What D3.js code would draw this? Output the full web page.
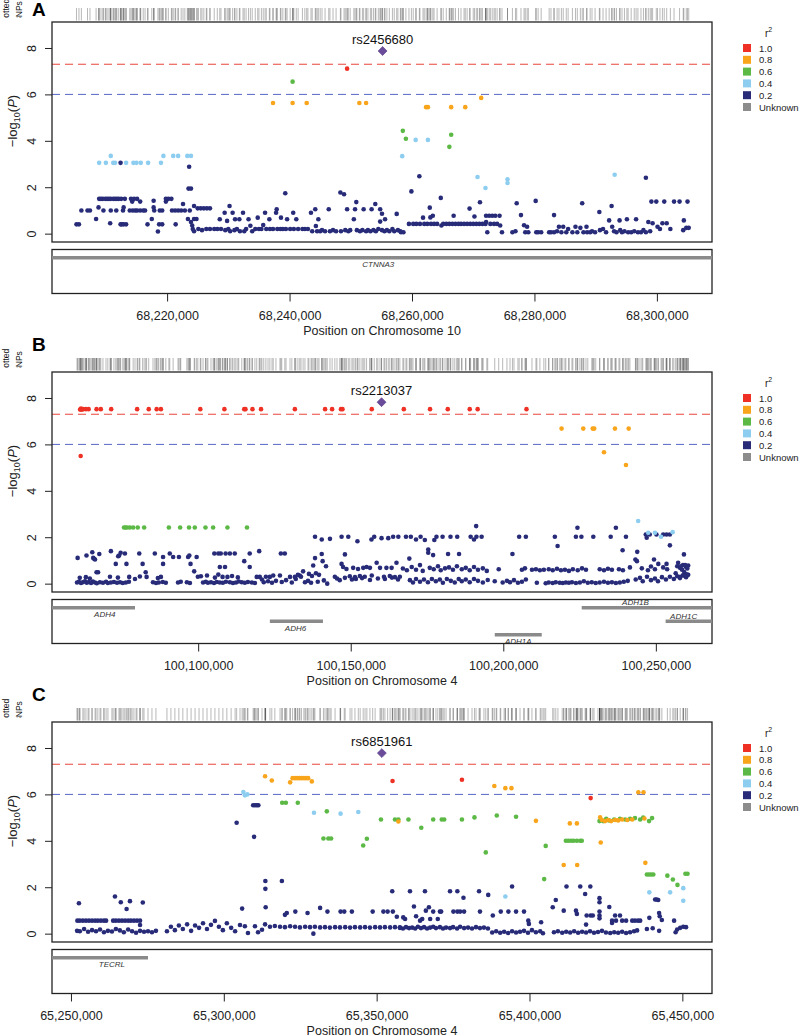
<!DOCTYPE html>
<html><head><meta charset="utf-8">
<script src="https://cdn.jsdelivr.net/npm/d3@7"></script>
<style>body{margin:0;background:#fff}svg{display:block}text{font-family:"Liberation Sans",Arial,Helvetica,sans-serif}</style>
</head><body><svg id="c" width="800" height="1036"></svg>
<script>
// ---------- Panel A (chr10, positions in kb) ----------
const domA = [68201.2, 68309.0];
const ticksA = [68220, 68240, 68260, 68280, 68300];
const A_r02 = [[68205.2,0.4],[68205.6,0.4],[68206.0,1.0],[68207.0,1.0],[68207.4,1.0],[68208.4,0.63],[68208.8,1.13],[68208.9,1.5],[68209.2,1.5],[68209.5,1.5],[68209.6,1.0],[68209.9,1.5],[68210.2,1.5],[68210.5,1.5],[68210.7,0.45],[68210.8,1.0],[68210.8,1.5],[68211.2,1.5],[68211.5,1.5],[68211.7,1.0],[68211.8,1.5],[68212.1,1.5],[68212.4,3.05],[68212.5,1.5],[68212.4,0.4],[68212.6,0.4],[68212.8,1.0],[68212.9,1.13],[68212.9,0.4],[68213.1,1.5],[68213.3,0.4],[68213.9,1.0],[68214.1,1.5],[68214.3,1.38],[68214.4,1.0],[68214.6,1.5],[68214.8,1.0],[68215.1,1.5],[68215.1,1.0],[68215.6,1.38],[68215.6,1.0],[68216.1,1.0],[68216.4,1.0],[68216.8,0.4],[68217.5,0.63],[68217.8,1.13],[68217.8,1.42],[68217.9,1.0],[68218.5,0.09],[68218.7,0.4],[68218.8,1.0],[68219.2,1.0],[68219.2,0.4],[68219.8,1.38],[68219.8,1.5],[68220.2,1.5],[68220.7,1.5],[68220.8,1.0],[68221.3,1.0],[68221.4,0.4],[68221.8,1.0],[68222.3,1.0],[68222.6,1.28],[68222.9,1.0],[68223.4,0.63],[68223.5,1.94],[68223.6,2.88],[68223.9,1.94],[68223.7,1.0],[68223.9,0.5],[68224.1,0.35],[68224.2,0.2],[68224.4,1.19],[68224.4,0.63],[68224.4,0.1],[68224.8,0.63],[68225.0,1.09],[68225.1,0.2],[68225.5,1.09],[68225.7,0.15],[68226.0,1.09],[68226.4,0.2],[68226.5,1.09],[68227.0,1.09],[68227.0,0.2],[68227.7,0.2],[68228.2,0.2],[68228.6,0.62],[68228.8,0.2],[68229.4,0.9],[68229.5,0.15],[68229.8,0.55],[68230.0,0.2],[68230.2,1.19],[68230.3,0.1],[68230.7,0.9],[68231.0,0.15],[68231.1,0.62],[68231.4,0.2],[68231.8,0.62],[68231.9,0.1],[68232.4,0.9],[68232.6,0.1],[68232.9,0.2],[68233.3,0.62],[68233.6,0.34],[68233.9,0.1],[68234.4,0.2],[68234.8,0.69],[68235.0,0.2],[68235.4,0.2],[68235.7,0.37],[68236.0,0.9],[68236.2,0.2],[68236.7,0.62],[68236.8,0.2],[68237.3,0.2],[68237.8,0.9],[68237.9,1.05],[68238.0,0.2],[68238.5,0.2],[68238.6,0.69],[68238.9,0.2],[68239.3,1.74],[68239.4,0.2],[68239.6,0.62],[68240.1,0.2],[68240.6,0.9],[68240.7,0.2],[68241.1,0.62],[68241.4,0.2],[68242.1,0.2],[68242.5,0.2],[68243.0,0.2],[68243.5,0.9],[68243.7,0.1],[68244.2,1.05],[68244.3,0.33],[68244.5,0.1],[68244.7,0.62],[68245.0,0.1],[68245.3,0.15],[68245.8,0.1],[68246.4,1.05],[68246.6,0.1],[68247.1,0.15],[68247.6,0.1],[68248.3,1.77],[68248.4,0.1],[68248.9,1.7],[68249.1,0.15],[68249.4,1.05],[68249.6,0.1],[68249.9,0.15],[68250.5,0.62],[68250.7,1.05],[68250.9,1.36],[68251.0,0.15],[68251.5,0.1],[68251.9,0.15],[68252.1,1.05],[68252.5,0.1],[68252.8,0.15],[68253.2,0.1],[68253.4,1.05],[68253.7,0.15],[68254.0,1.28],[68254.1,0.1],[68254.5,0.2],[68254.8,1.05],[68254.8,0.52],[68255.1,0.86],[68255.1,0.15],[68255.5,0.1],[68255.6,0.62],[68255.9,0.15],[68256.3,0.1],[68256.8,0.2],[68257.1,0.1],[68257.5,0.85],[68257.7,0.15],[68258.1,0.1],
[68258.2,0.06],[68258.6,0.06],[68259.5,0.42],[68259.9,1.82],[68260.2,0.42],[68260.7,0.42],[68261.2,2.47],[68261.3,0.42],[68261.8,0.69],[68262.0,0.42],[68262.5,0.42],[68262.9,1.12],[68263.0,0.7],[68263.1,0.42],[68263.4,0.77],[68263.6,0.42],[68264.1,0.42],[68264.7,1.54],[68264.8,0.35],[68265.1,0.42],[68265.6,0.42],[68266.1,0.42],[68266.6,0.42],[68266.8,0.77],[68267.1,0.42],[68267.6,0.42],[68268.0,0.42],[68268.5,0.42],[68269.0,0.42],[68269.4,1.08],[68269.5,0.42],[68270.0,0.42],[68270.2,0.74],[68270.5,0.42],[68271.0,0.42],[68271.1,1.35],[68271.5,0.42],[68272.0,0.42],[68272.1,0.5],[68272.1,0.77],[68272.3,0.06],[68272.6,0.77],[68272.8,0.42],[68273.1,0.77],[68273.4,0.42],[68273.6,0.77],[68273.9,0.42],[68274.3,0.77],[68274.4,0.35],[68274.7,0.06],[68276.4,0.06],[68276.9,0.1],[68277.1,1.31],[68277.8,0.8],[68278.3,0.36],[68278.5,0.06],[68278.8,0.3],[68279.0,0.06],[68280.2,1.41],[68280.3,0.06],[68280.6,0.06],[68281.1,0.06],[68282.4,0.06],[68282.7,0.06],[68283.2,0.8],[68283.2,0.06],[68283.7,0.1],[68284.0,0.3],[68284.4,0.06],[68284.7,0.3],[68285.2,0.06],[68285.5,0.2],[68286.2,0.06],[68286.7,0.3],[68287.0,0.06],[68287.5,0.25],[68287.8,1.31],[68288.0,0.06],[68288.5,0.3],[68288.6,0.06],[68289.1,0.06],[68289.4,0.1],[68289.9,0.06],[68290.6,0.93],[68290.7,0.15],[68291.2,0.2],[68291.7,0.06],[68292.2,0.57],[68292.6,1.19],[68292.7,0.3],[68293.0,0.1],[68293.4,0.06],[68293.9,0.57],[68294.0,0.15],[68294.3,0.06],[68294.7,0.1],[68295.1,0.62],[68295.3,0.06],[68295.8,0.06],[68296.3,0.1],[68296.6,0.62],[68296.9,0.06],[68297.4,0.06],[68297.8,0.15],[68298.2,2.41],[68298.2,0.06],[68298.6,0.5],[68298.9,0.1],[68299.1,1.38],[68299.3,0.45],[68299.9,1.38],[68300.1,0.3],[68300.5,0.2],[68300.9,0.45],[68301.2,1.38],[68301.6,0.45],[68302.2,0.2],[68302.8,1.38],[68303.7,1.38],[68304.3,0.15],[68304.4,0.57],[68304.8,0.25],[68305.0,1.38],[68305.2,0.25]];
const A_r04 = [[68208.9,3.05],[68210.0,3.05],[68210.8,3.35],[68211.2,3.05],[68211.5,3.05],[68213.3,3.05],[68214.5,3.05],[68215.0,3.05],[68215.7,3.05],[68216.9,3.05],[68219.0,3.05],[68219.4,3.35],[68221.0,3.35],[68221.8,3.35],[68223.3,3.35],[68223.9,3.35],[68258.4,3.34],[68260.6,4.04],[68262.6,4.04],[68270.7,2.44],[68272.0,1.97],[68275.6,2.34],[68275.6,2.18],[68293.1,2.54]];
const A_r06 = [[68240.5,6.55],[68258.5,4.43],[68259.0,4.09],[68266.1,3.74],[68266.4,4.26]];
const A_r08 = [[68237.3,5.63],[68240.5,5.63],[68242.8,5.63],[68251.4,5.63],[68252.5,5.63],[68262.3,5.45],[68262.6,5.45],[68266.4,5.45],[68268.7,5.45],[68271.3,5.85]];
const A_r10 = [[68249.4,7.11]];
const leadA = [68255.2, 7.87];
const leadNameA = "rs2456680";
const genesA = [["CTNNA3",68180,68330,68254.5,0,"below"]];

// ---------- Panel B (chr4) ----------
const domB = [100052.1, 100268.4];
const ticksB = [100100, 100150, 100200, 100250];
const B_r02 = [[100060.5,1.11],[100063.4,1.21],[100065.3,1.35],[100065.6,1.11],[100065.9,1.07],[100066.2,1.04],[100067.6,1.28],[100066.7,0.49],[100067.2,0.49],[100071.4,1.4],[100073.0,0.85],[100073.8,1.18],[100074.1,1.21],[100074.6,1.33],[100076.0,1.3],[100076.5,0.85],[100077.4,0.29],[100080.7,1.3],[100081.8,0.85],[100082.8,0.49],[100083.1,0.29],[100085.8,1.3],[100088.5,1.15],[100088.5,0.85],[100090.7,1.3],[100091.8,1.15],[100087.8,0.29],[100093.7,1.15],[100096.7,1.15],[100097.1,1.21],[100097.5,0.85],[100098.7,0.53],[100099.5,1.15],[100100.9,0.32],[100105.3,1.3],[100106.6,1.3],[100107.4,1.3],[100109.0,1.3],[100110.4,1.3],[100112.0,1.3],[100107.1,0.72],[100108.8,0.72],[100106.6,0.39],[100108.0,0.29],[100109.6,0.29],[100115.1,0.97],[100116.9,1.3],[100120.0,1.4],[100116.9,0.72],[100119.2,0.29],[100120.2,0.29],[100123.5,0.29],[100124.6,0.35],[100127.1,1.3],[100128.4,1.3],[100130.1,0.29],[100131.7,0.29],[100133.3,0.35],[100134.4,0.53],[100137.7,0.78],[100138.3,1.1],[100138.3,2.02],[100140.5,1.9],[100140.5,1.28],[100143.2,1.93],[100140.8,0.97],[100141.9,0.75],[100142.3,0.0],[100147.0,2.02],[100149.2,2.02],[100152.2,1.83],[100156.8,1.9],[100157.7,2.02],[100160.1,1.96],[100162.3,1.96],[100163.9,2.02],[100165.6,2.02],[100148.1,1.26],[100147.0,0.85],[100147.5,0.72],[100148.6,0.63],[100150.8,0.68],[100152.4,0.63],[100154.1,0.68],[100155.2,0.72],[100156.3,0.68],[100158.5,0.9],[100159.6,0.68],[100161.7,0.68],[100163.4,0.68],[100165.0,0.9],
[100060.3,0.05],[100060.9,0.08],[100061.6,0.03],[100062.2,0.06],[100062.9,0.1],[100063.5,0.04],[100064.2,0.07],[100064.9,0.03],[100065.5,0.09],[100066.2,0.05],[100066.8,0.02],[100067.8,0.06],[100068.8,0.04],[100069.8,0.08],[100070.4,0.03],[100071.4,0.05],[100072.4,0.07],[100073.4,0.04],[100074.4,0.06],[100075.3,0.03],[100076.3,0.05],[100077.3,0.08],[100085.2,0.06],[100086.2,0.03],[100087.1,0.05],[100088.4,0.07],[100089.4,0.04],[100093.4,0.05],[100094.3,0.08],[100096.3,0.06],[100097.3,0.03],[100101.6,0.05],[100102.5,0.08],[100103.2,0.04],[100104.2,0.06],[100105.2,0.03],[100106.1,0.07],[100107.1,0.05],[100108.1,0.04],[100109.1,0.08],[100110.4,0.06],[100111.4,0.03],[100112.4,0.05],[100113.3,0.09],[100114.3,0.06],[100115.3,0.04],[100116.3,0.07],[100117.6,0.05],[100118.6,0.03],[100120.9,0.18],[100121.5,0.06],[100122.9,0.1],[100124.2,0.04],[100125.5,0.12],[100127.4,0.07],[100128.8,0.15],[100130.7,0.05],[100132.0,0.2],[100135.0,0.06],[100136.0,0.12],[100137.0,0.04],[100139.2,0.08],[100141.2,0.14],[100145.5,0.22],[100146.4,0.15],[100148.1,0.25],[100150.4,0.18],[100151.7,0.2],[100153.7,0.24],[100156.3,0.16],[100158.9,0.22],[100161.2,0.2],[100163.5,0.26],[100165.5,0.18],
[100061.2,0.25],[100063.2,0.28],[100064.5,0.22],[100071.1,0.3],[100073.7,0.26],[100079.3,0.2],[100080.9,0.31],[100086.8,0.24],[100099.9,0.3],[100102.9,0.35],[100105.5,0.26],[100111.1,0.33],[100113.0,0.27],[100122.2,0.3],[100126.8,0.35],[100132.7,0.38],[100133.7,0.3],[100136.3,0.42],[100137.3,0.33],[100138.6,0.45],[100139.6,0.38],[100144.8,0.3],[100149.7,0.32],[100151.4,0.28],[100153.0,0.33],[100154.6,0.3],[100156.9,0.35],[100160.9,0.3],[100162.8,0.33],[100164.5,0.28],[100166.1,0.3],
[100168.1,2.02],[100169.7,2.02],[100171.4,1.9],[100172.9,2.02],[100174.3,1.88],[100177.4,1.88],[100178.1,2.02],[100180.1,2.02],[100182.7,2.02],[100184.9,2.02],[100189.3,2.02],[100190.4,1.9],[100191.2,2.02],[100192.9,2.02],[100205.2,2.02],[100207.4,2.02],[100216.9,2.02],[100217.8,1.62],[100223.8,2.02],[100225.6,2.02],[100229.5,2.02],[100235.2,2.02],[100240.2,2.02],[100191.1,2.48],[100224.3,2.41],[100236.9,2.41],
[100175.4,1.47],[100175.4,1.33],[100177.0,1.23],[100181.9,1.28],[100185.5,1.28],[100203.0,1.28],[100239.1,1.44],[100243.9,1.37],[100254.6,1.65],[100259.2,1.26],[100169.2,1.08],[100243.3,1.04],[100243.8,0.97],[100249.4,1.04],[100250.8,0.85],[100253.5,0.85],
[100246.7,2.12],[100248.0,2.12],[100250.2,2.12],[100252.4,2.12],[100253.5,2.12],[100254.6,2.12],[100247.0,1.98],
[100167.1,0.65],[100168.4,0.58],[100170.0,0.72],[100171.4,0.6],[100172.7,0.8],[100173.6,0.55],[100175.9,0.68],[100177.2,0.62],[100178.6,0.75],[100179.5,0.58],[100180.9,0.66],[100182.2,0.7],[100183.5,0.6],[100184.8,0.75],[100186.4,0.62],[100187.7,0.68],[100189.0,0.58],[100190.4,0.72],[100191.7,0.6],[100193.3,0.66],[100194.6,0.55],[100198.5,0.62],[100206.1,0.6],[100207.1,0.66],[100209.4,0.6],[100210.7,0.62],[100212.0,0.58],[100213.3,0.6],[100214.9,0.62],[100216.2,0.58],[100217.6,0.64],[100218.9,0.58],[100220.2,0.6],[100221.5,0.55],[100222.8,0.62],[100224.4,0.58],[100225.8,0.66],[100227.1,0.6],[100231.6,0.62],[100233.0,0.58],[100234.3,0.64],[100235.6,0.6],[100237.9,0.62],[100239.2,0.58],[100241.5,0.7],[100245.4,0.66],[100247.4,0.58],[100248.4,0.74],[100249.7,0.62],[100252.4,0.7],[100253.7,0.62],[100257.0,0.75],[100257.9,0.68],[100258.9,0.8],[100259.9,0.72],[100260.6,0.78],
[100169.4,0.15],[100170.4,0.05],[100171.4,0.2],[100172.7,0.08],[100174.0,0.18],[100175.3,0.06],[100176.6,0.2],[100177.9,0.1],[100179.2,0.18],[100180.2,0.04],[100181.5,0.2],[100182.8,0.12],[100184.1,0.05],[100185.4,0.2],[100186.4,0.1],[100187.7,0.18],[100189.0,0.06],[100190.4,0.2],[100191.7,0.12],[100193.3,0.05],[100194.9,0.16],[100197.2,0.1],[100199.8,0.05],[100201.2,0.12],[100202.2,0.06],[100203.5,0.15],[100204.8,0.04],[100206.1,0.08],[100207.4,0.18],[100211.0,0.04],[100213.9,0.02],[100214.9,0.05],[100216.2,0.03],[100217.2,0.06],[100218.5,0.04],[100219.5,0.03],[100220.5,0.05],[100221.5,0.04],[100222.5,0.06],[100223.8,0.03],[100225.1,0.05],[100226.4,0.1],[100227.7,0.04],[100229.0,0.06],[100230.3,0.03],[100231.6,0.05],[100233.0,0.08],[100234.3,0.04],[100235.6,0.06],[100236.9,0.03],[100238.2,0.05],[100239.5,0.08],[100240.8,0.12],[100243.4,0.18],[100244.8,0.25],[100245.7,0.1],[100247.1,0.3],[100248.4,0.15],[100249.7,0.22],[100250.7,0.1],[100252.0,0.28],[100253.3,0.18],[100254.6,0.3],[100255.9,0.2],[100257.0,0.32],[100257.9,0.24],[100258.9,0.36],[100259.9,0.28],[100260.6,0.38],
[100257.3,0.9],[100258.2,0.75],[100258.6,0.6],[100259.3,0.5],[100259.6,0.8],[100260.1,0.4],[100260.3,0.65],[100258.0,0.3],[100256.5,0.45],[100259.0,0.35]];
const B_r04 = [[100244.2,2.7],[100247.5,2.19],[100249.7,2.19],[100251.7,2.02],[100255.5,2.22]];
const B_r06 = [[100075.7,2.42],[100076.2,2.42],[100076.7,2.42],[100077.6,2.42],[100078.7,2.42],[100080.2,2.42],[100082.3,2.42],[100090.4,2.42],[100094.1,2.42],[100097.0,2.42],[100098.9,2.42],[100102.4,2.42],[100104.9,2.42],[100109.6,2.42],[100116.0,2.42]];
const B_r08 = [[100219.1,6.68],[100226.2,6.68],[100229.3,6.68],[100229.8,6.68],[100236.6,6.68],[100241.1,6.68],[100233.0,5.66],[100240.2,5.11]];
const B_r10 = [[100061.3,7.5],[100061.6,7.55],[100061.9,7.5],[100062.3,7.52],[100063.2,7.52],[100064.1,7.52],[100066.7,7.52],[100068.1,7.52],[100071.5,7.52],[100080.0,7.52],[100083.8,7.52],[100086.4,7.52],[100087.8,7.52],[100100.7,7.52],[100108.6,7.52],[100115.1,7.52],[100115.5,7.52],[100117.8,7.52],[100120.6,7.52],[100131.7,7.52],[100141.6,7.52],[100143.9,7.52],[100146.8,7.52],[100147.3,7.52],[100156.9,7.52],[100167.4,7.52],[100176.0,7.52],[100181.8,7.52],[100189.0,7.52],[100191.6,7.52],[100207.6,7.52],[100061.5,5.5]];
const leadB = [100160.1, 7.82];
const leadNameB = "rs2213037";
const genesB = [["ADH4",100040,100079.3,100069.4,0,"below"],["ADH6",100123.5,100140.9,100131.9,1,"below"],["ADH1A",100197.2,100212.6,100204.9,2,"below"],["ADH1B",100225.7,100280,100243.3,0,"above"],["ADH1C",100253.2,100280,100259.1,1,"above"]];

// ---------- Panel C (chr4) ----------
const domC = [65243.8, 65459.7];
const ticksC = [65250, 65300, 65350, 65400, 65450];
const C_r02 = [[65252.6,1.31],[65252.1,0.56],[65252.9,0.56],[65253.9,0.56],[65254.9,0.56],[65255.9,0.56],[65256.9,0.56],[65257.9,0.56],[65258.8,0.56],[65259.8,0.56],[65260.8,0.56],[65261.5,0.56],[65264.4,1.6],[65266.3,1.35],[65268.2,1.06],[65269.3,1.4],[65273.5,1.34],[65263.8,0.56],[65264.7,0.56],[65265.7,0.56],[65266.7,0.56],[65267.7,0.56],[65268.7,0.56],[65269.6,0.56],[65270.6,0.56],[65271.6,0.56],[65272.6,0.56],[65272.6,0.37],
[65252.0,0.12],[65252.9,0.1],[65254.3,0.2],[65255.6,0.08],[65256.9,0.15],[65258.2,0.1],[65259.5,0.18],[65260.8,0.06],[65262.1,0.12],[65263.4,0.09],[65264.7,0.2],[65266.0,0.14],[65267.3,0.06],[65268.7,0.18],[65270.0,0.1],[65271.3,0.04],[65272.6,0.12],[65273.9,0.08],[65275.2,0.1],[65276.5,0.06],[65277.8,0.12],
[65281.4,0.1],[65282.7,0.3],[65284.0,0.15],[65285.3,0.35],[65286.6,0.2],[65288.0,0.4],[65289.3,0.12],[65290.6,0.35],[65291.9,0.25],[65293.2,0.45],[65294.5,0.2],[65295.8,0.38],[65297.1,0.55],[65298.4,0.3],[65299.7,0.15],[65301.0,0.45],[65302.4,0.25],[65303.7,0.1],
[65305.3,0.37],[65306.9,0.32],[65307.9,0.03],[65310.2,0.32],[65311.2,0.06],[65312.5,0.17],
[65306.0,1.08],[65313.6,2.27],[65313.6,1.93],[65313.7,1.14],[65319.0,2.27],[65320.0,0.81],[65320.6,0.89],[65323.4,0.95],[65327.4,0.89],[65331.5,1.11],[65333.9,0.95],[65338.2,0.95],[65339.4,0.95],[65341.9,0.95],[65348.7,0.95],[65352.2,0.95],[65353.6,0.95],[65355.3,0.95],[65355.1,1.83],[65356.6,0.73],[65329.3,0.0],
[65313.5,0.4],[65315.1,0.3],[65316.7,0.33],[65318.4,0.3],[65320.0,0.28],[65321.7,0.32],[65323.3,0.3],[65324.9,0.27],[65326.6,0.3],[65328.2,0.28],[65329.8,0.3],[65331.5,0.27],[65333.1,0.28],[65334.7,0.26],[65336.4,0.28],[65338.0,0.27],[65339.7,0.28],[65341.3,0.26],[65342.9,0.28],[65344.6,0.27],[65346.2,0.28],[65347.8,0.26],[65349.5,0.28],[65351.1,0.27],[65352.7,0.28],[65354.4,0.27],[65356.0,0.28],[65357.6,0.27],
[65304.2,4.78],[65309.6,5.53],[65310.2,5.53],[65310.8,5.53],[65311.3,5.53],[65309.9,4.17],
[65360.9,1.83],[65365.8,1.83],[65374.0,1.83],[65376.4,1.83],[65383.5,1.83],[65386.5,1.67],[65394.3,2.03],[65378.4,1.55],[65362.2,1.17],[65367.1,1.14],[65366.1,0.99],[65368.5,0.95],[65370.7,0.95],[65371.1,0.95],[65375.1,0.95],[65376.4,0.95],[65377.3,0.95],[65378.6,0.95],[65383.8,0.95],[65390.6,0.95],[65393.1,0.95],[65395.6,0.95],[65398.2,0.95],[65388.0,0.78],[65358.7,0.7],[65359.3,0.63],[65362.9,0.75],[65364.2,0.56],[65364.9,0.63],[65367.5,0.63],[65370.0,0.63],[65407.6,1.14],[65408.6,1.45],[65411.2,0.99],[65412.1,2.03],[65415.2,0.99],[65415.5,0.85],[65416.6,2.03],[65418.2,1.71],[65419.9,2.03],[65418.5,0.39],[65418.7,0.78],[65420.0,0.78],[65420.7,0.78],[65422.9,1.53],[65422.9,1.35],[65422.9,0.95],[65422.9,0.78],[65422.9,0.66],[65426.1,1.15],[65427.0,0.56],[65427.0,0.46],[65428.0,0.78],[65429.6,0.78],[65428.3,0.56],[65430.3,0.56],[65431.6,0.56],[65433.6,0.56],[65434.5,0.56],[65435.5,0.56],[65436.2,0.56],[65439.2,0.68],[65441.1,1.47],[65441.6,1.47],[65442.1,1.45],[65442.4,0.89],[65442.6,0.75],[65443.3,0.59],[65447.3,0.56],[65399.6,0.56],[65399.8,0.42],[65403.8,0.49],[65438.4,0.2],[65440.3,0.23],[65442.4,0.12],[65447.8,0.06],[65448.3,0.18],[65449.3,0.25],[65450.3,0.3],[65451.2,0.28],
[65357.6,0.25],[65358.6,0.22],[65359.6,0.28],[65360.6,0.24],[65361.6,0.26],[65362.6,0.22],[65363.5,0.3],[65364.5,0.24],[65365.5,0.28],[65366.5,0.22],[65367.5,0.26],[65368.5,0.3],[65369.4,0.24],[65370.7,0.28],[65371.7,0.22],[65372.7,0.26],[65374.0,0.24],[65375.0,0.28],[65376.3,0.22],[65377.3,0.3],[65378.6,0.24],[65379.9,0.26],[65381.2,0.22],[65382.5,0.28],[65383.8,0.24],[65385.1,0.26],[65386.4,0.22],[65387.8,0.05],[65389.1,0.1],[65390.4,0.04],[65391.7,0.08],[65393.0,0.03],[65394.3,0.1],[65395.6,0.05],[65396.9,0.08],[65398.2,0.12],[65399.5,0.04],[65400.8,0.15],[65402.1,0.06],[65403.5,0.1],[65404.4,0.02],
[65408.0,0.06],[65409.3,0.1],[65410.7,0.04],[65412.0,0.08],[65413.3,0.05],[65414.6,0.1],[65415.9,0.04],[65417.2,0.08],[65418.5,0.05],[65419.8,0.1],[65421.1,0.04],[65422.4,0.07],[65423.7,0.12],[65425.0,0.05],[65426.4,0.03],[65427.7,0.06],[65429.0,0.04],[65430.3,0.08],[65431.6,0.03],[65432.9,0.06],[65434.2,0.1],[65435.2,0.14]];
const C_r04 = [[65306.4,6.1],[65306.9,5.96],[65307.7,6.0],[65329.5,5.21],[65338.2,5.17],[65344.0,5.24],[65392.1,1.6],[65439.2,1.78],[65446.0,1.78],[65450.3,1.96],[65450.3,1.42]];
const C_r06 = [[65319.1,5.64],[65320.3,5.64],[65324.2,5.64],[65333.7,5.27],[65332.6,4.1],[65334.2,4.1],[65335.1,4.1],[65345.6,3.8],[65346.8,4.09],[65351.4,4.92],[65356.0,4.92],[65357.1,4.92],[65360.4,4.92],[65368.5,4.92],[65371.3,4.92],[65372.1,4.92],[65377.9,4.92],[65382.0,5.01],[65389.3,5.09],[65395.6,5.04],[65364.6,4.56],[65405.3,3.78],[65411.9,4.0],[65412.7,4.0],[65413.6,4.0],[65414.4,4.0],[65415.5,4.0],[65416.6,4.0],[65417.1,4.0],[65422.9,4.85],[65423.4,4.9],[65424.1,4.85],[65425.1,4.95],[65426.0,4.88],[65427.7,4.92],[65429.6,4.95],[65431.3,4.92],[65432.9,4.95],[65434.5,4.98],[65436.2,4.92],[65437.2,5.0],[65439.1,4.85],[65440.1,4.98],[65385.7,3.5],[65404.8,2.35],[65438.4,2.55],[65439.1,2.55],[65439.8,2.55],[65440.5,2.55],[65445.1,2.5],[65446.9,2.33],[65448.4,2.1],[65451.0,2.58],[65451.7,2.58]];
const C_r08 = [[65313.5,6.78],[65315.7,6.6],[65321.7,6.52],[65322.5,6.7],[65323.3,6.7],[65324.0,6.7],[65324.7,6.7],[65325.4,6.7],[65326.2,6.7],[65326.9,6.7],[65327.6,6.7],[65328.8,6.56],[65357.1,4.83],[65388.5,6.36],[65392.1,6.27],[65394.1,6.27],[65402.1,4.86],[65413.2,4.75],[65415.5,4.75],[65423.1,5.01],[65423.3,3.93],[65435.6,6.09],[65437.3,6.09],[65437.6,4.96],[65423.7,4.9],[65424.7,4.85],[65425.7,4.9],[65426.7,4.85],[65428.0,4.9],[65429.0,4.88],[65430.3,4.92],[65432.0,4.9],[65433.6,4.92],[65411.2,2.96],[65415.6,2.96],[65437.9,3.05]];
const C_r10 = [[65355.2,6.58],[65377.9,6.63],[65420.0,5.84]];
const leadC = [65351.7, 7.78];
const leadNameC = "rs6851961";
const genesC = [["TECRL",65230,65275.2,65263.4,0,"below"]];

// ---------- legend ----------
const ldLabels = ["1.0","0.8","0.6","0.4","0.2","Unknown"];
const ldColors = ["#ee3124","#f8a51b","#5cb946","#8dcdf0","#272b78","#8c8c8c"];

const panels = [
  {letter:"A", top:22, letterY:16, domain:domA, ticks:ticksA, chrom:"10", groups:[A_r02,A_r04,A_r06,A_r08,A_r10], lead:leadA, leadName:leadNameA, genes:genesA},
  {letter:"B", top:372, letterY:351, domain:domB, ticks:ticksB, chrom:"4", groups:[B_r02,B_r04,B_r06,B_r08,B_r10], lead:leadB, leadName:leadNameB, genes:genesB},
  {letter:"C", top:722, letterY:701, domain:domC, ticks:ticksC, chrom:"4", groups:[C_r02,C_r04,C_r06,C_r08,C_r10], lead:leadC, leadName:leadNameC, genes:genesC}
];

const svg = d3.select("#c");
const L = 52, R = 712, H = 220, GH = 44;
const groupColor = [ldColors[4], ldColors[3], ldColors[2], ldColors[1], ldColors[0]];

panels.forEach((p, pi) => {
  const x = d3.scaleLinear().domain(p.domain).range([L, R]);
  const y = d3.scaleLinear().domain([-0.36, 9.12]).range([p.top + H, p.top]);
  const g = svg.append("g");

  const cid = "clip" + pi;
  svg.append("clipPath").attr("id", cid).append("rect").attr("x", L).attr("y", p.top).attr("width", R - L).attr("height", H);
  const gTop = p.top + H + 7.5;
  const gid = "gclip" + pi;
  svg.append("clipPath").attr("id", gid).append("rect").attr("x", L).attr("y", gTop).attr("width", R - L).attr("height", GH);
  const lid = "lclip" + pi;
  svg.append("clipPath").attr("id", lid).append("rect").attr("x", 0).attr("y", p.top - 60).attr("width", 40).attr("height", 56);

  // panel letter
  g.append("text").attr("x", 32).attr("y", p.letterY).attr("font-size", 19).attr("font-weight", "bold").text(p.letter);

  // Plotted SNPs label (clipped as in the original figure)
  const ps = g.append("g").attr("clip-path", `url(#${lid})`)
    .append("text").attr("transform", `translate(0,${p.top - 10}) rotate(-90)`)
    .attr("text-anchor", "middle").attr("font-size", 8.5).attr("fill", "#111");
  ps.append("tspan").attr("x", 0).attr("y", 8.5).text("Plotted");
  ps.append("tspan").attr("x", 0).attr("y", 21.5).text("SNPs");

  // rug of plotted SNPs
  const all = [].concat(...p.groups, [p.lead]);
  g.append("g").selectAll("line").data(all).join("line")
    .attr("x1", d => x(d[0])).attr("x2", d => x(d[0]))
    .attr("y1", p.top - 14).attr("y2", p.top - 1.5)
    .attr("stroke", "#333").attr("stroke-opacity", 0.35).attr("stroke-width", 1);

  // threshold lines
  g.append("line").attr("x1", L).attr("x2", R).attr("y1", y(7.3)).attr("y2", y(7.3))
    .attr("stroke", "#e8453a").attr("stroke-width", 1).attr("stroke-dasharray", "8,5");
  g.append("line").attr("x1", L).attr("x2", R).attr("y1", y(6)).attr("y2", y(6))
    .attr("stroke", "#5566c4").attr("stroke-width", 1).attr("stroke-dasharray", "8,5");

  // points
  const pg = g.append("g").attr("clip-path", `url(#${cid})`);
  p.groups.forEach((arr, k) => {
    pg.append("g").selectAll("circle").data(arr).join("circle")
      .attr("cx", d => x(d[0])).attr("cy", d => y(d[1])).attr("r", 2.3)
      .attr("fill", groupColor[k]);
  });
  // lead SNP (diamond)
  g.append("path").attr("d", d3.symbol(d3.symbolSquare, 40)())
    .attr("transform", `translate(${x(p.lead[0])},${y(p.lead[1])}) rotate(45)`)
    .attr("fill", "#6b4c9a").attr("stroke", "#553a85").attr("stroke-width", 0.6);
  g.append("text").attr("x", x(p.lead[0])).attr("y", y(p.lead[1]) - 7)
    .attr("text-anchor", "middle").attr("font-size", 13).attr("fill", "#111").text(p.leadName);

  // frame
  g.append("rect").attr("x", L).attr("y", p.top).attr("width", R - L).attr("height", H)
    .attr("fill", "none").attr("stroke", "#222").attr("stroke-width", 1.3);

  // y axis
  const ya = g.append("g").attr("transform", `translate(${L},0)`)
    .call(d3.axisLeft(y).tickValues([0, 2, 4, 6, 8]).tickSize(7).tickSizeOuter(0));
  ya.select(".domain").remove();
  ya.selectAll(".tick line").attr("stroke", "#222");
  ya.selectAll(".tick text").attr("x", 0).attr("dy", 0).attr("text-anchor", "middle")
    .attr("transform", "translate(-16.5,0) rotate(-90)")
    .attr("font-size", 12.5).attr("fill", "#222").attr("font-family", '"Liberation Sans",Arial,sans-serif');
  const yl = g.append("text").attr("transform", `translate(17,${p.top + H / 2 - 11}) rotate(-90)`)
    .attr("text-anchor", "middle").attr("font-size", 13).attr("fill", "#222");
  yl.append("tspan").text("\u2212log");
  yl.append("tspan").attr("font-size", 9).attr("dy", 3).text("10");
  yl.append("tspan").attr("dy", -3).text("(");
  yl.append("tspan").attr("font-style", "italic").text("P");
  yl.append("tspan").text(")");

  // gene panel
  g.append("rect").attr("x", L).attr("y", gTop).attr("width", R - L).attr("height", GH)
    .attr("fill", "none").attr("stroke", "#222").attr("stroke-width", 1.3);
  g.append("g").attr("clip-path", `url(#${gid})`).selectAll("line").data(p.genes).join("line")
    .attr("x1", d => x(d[1])).attr("x2", d => x(d[2]))
    .attr("y1", d => gTop + 8.3 + d[4] * 13.5).attr("y2", d => gTop + 8.3 + d[4] * 13.5)
    .attr("stroke", "#8a8a8a").attr("stroke-width", 3.5);
  g.append("g").selectAll("text").data(p.genes).join("text")
    .attr("x", d => x(d[3]))
    .attr("y", d => gTop + 8.3 + d[4] * 13.5 + (d[5] === "below" ? 9.2 : -2.6))
    .attr("text-anchor", "middle").attr("font-size", 8).attr("font-style", "italic").attr("fill", "#333")
    .text(d => d[0]);

  // x axis
  const xa = g.append("g").attr("transform", `translate(0,${gTop + GH})`)
    .call(d3.axisBottom(x).tickValues(p.ticks).tickSize(8).tickPadding(10)
      .tickFormat(d => d3.format(",")(Math.round(d * 1000))));
  xa.select(".domain").remove();
  xa.selectAll(".tick line").attr("stroke", "#222");
  xa.selectAll(".tick text").attr("font-size", 12.5).attr("fill", "#222")
    .attr("font-family", '"Liberation Sans",Arial,sans-serif');
  g.append("text").attr("x", (L + R) / 2).attr("y", gTop + GH + 41).attr("text-anchor", "middle")
    .attr("font-size", 12.5).attr("fill", "#222").text("Position on Chromosome " + p.chrom);

  // legend
  const lg = g.append("g");
  const r2 = lg.append("text").attr("x", 765).attr("y", p.top + 14.5).attr("font-size", 10).attr("fill", "#222");
  r2.append("tspan").text("r");
  r2.append("tspan").attr("font-size", 7).attr("dy", -5).text("2");
  ldLabels.forEach((lab, i) => {
    const cy = p.top + 26 + i * 11.8;
    lg.append("rect").attr("x", 743).attr("y", cy - 4).attr("width", 8).attr("height", 8).attr("fill", ldColors[i]);
    lg.append("text").attr("x", 759).attr("y", cy + 3.5).attr("font-size", 9.5).attr("fill", "#222").text(lab);
  });
});
</script>
</body></html>
